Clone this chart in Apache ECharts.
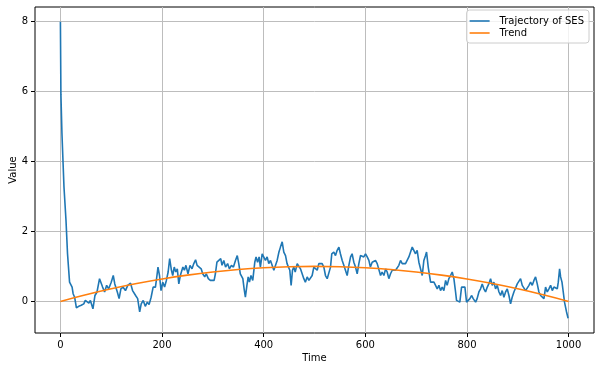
<!DOCTYPE html>
<html>
<head>
<meta charset="utf-8">
<script src="https://cdn.jsdelivr.net/npm/echarts@6/dist/echarts.min.js"></script>
<style>
html,body{margin:0;padding:0;background:#fff;}
#chart{width:599px;height:371px;}
</style>
</head>
<body>
<div id="chart"></div>
<script>
// Trajectory of SES: time stamps and values
var trajTime = [0,1,3,7,11,14,18,21,23,25,28,31.5,36,41,46,49,52.5,56,59,64,68,72,77,80,83,87,91,95,100,104,107,112,115.5,119,123,128,132.5,138,142,148,152,156,159,163,167,171,174.5,178.5,182.5,187,190,192,195,198,201.5,205,208.5,212,215,218.5,221,224,227,230,233,236,241,244,247,251,255,259,262.5,266,269,272,277,280,284,287,291,295,298.5,302.5,305,308,311.5,315.5,318,321.5,325,329,332.5,336.5,340.5,344.5,348,351,354,359,361.5,364,367,369.5,372,375,378.5,382.5,385,388,391,393.5,397,400.5,403.5,406.8,410,413.4,416.7,420,423,426.5,430,433,436.4,439.6,443,446,449.5,451.4,454,456.7,459.3,462,466,469,472.4,475.7,479,482,485.6,489,492,495.4,498.7,502,505.3,508.5,512,515,518.4,521.6,525,528,531.5,534,538,541.3,544.6,548,551,554.5,557.7,561,564.3,567.6,571,574,577.4,580.7,584,587.3,590.6,594,597,600.4,603.7,607,610,613.5,617,620,623.4,626.6,630,633,636.5,640,643,646.3,649.6,653,656,659.5,662.7,666,669.3,672.6,676,679.1,682.4,685.7,689,692.3,695.5,698.8,702,705.4,708.7,712,715.2,718.5,720.5,723.8,726.4,728.4,731.6,735,738.2,741.5,744.8,748,751.3,754.6,758,761,764.4,767.7,771,774.3,777.6,779.5,783,786,789.4,792.7,796,799.2,802.5,805.8,809,812.3,817,820,823.5,826.8,830,833.3,836.6,840,843,846.5,849.8,853,856.3,859.6,863,866.2,869.4,872.7,876,879.3,882.6,885.8,889,892.4,895.7,899,902.2,905.5,908.8,912,915.4,918.7,922,925.2,928.5,931.8,935,938.3,941.6,944.9,948.2,951.5,954.7,958,961.3,964.6,967.9,971.1,974.4,977.7,979.7,982.3,984.3,987,989.5,992,994,996,998,999];
var trajValue = [7.98,5.9,4.8,3.27,2.31,1.36,0.55,0.50,0.41,0.22,0.12,-0.18,-0.14,-0.11,-0.07,0.03,0.08,-0.05,0.03,-0.21,0.17,0.27,0.65,0.70,0.41,0.27,0.46,0.36,0.55,0.74,0.50,0.27,0.08,0.36,0.41,0.31,0.46,0.52,0.31,0.17,0.08,-0.30,-0.07,0.03,-0.14,-0.02,-0.09,0.12,0.41,0.41,0.74,0.98,0.74,0.31,0.55,0.41,0.60,0.84,1.22,0.89,0.74,0.98,0.84,0.93,0.50,0.74,0.98,0.89,1.03,0.79,1.03,0.93,1.08,1.19,1.03,1.08,0.93,0.79,0.70,0.79,0.65,0.60,0.55,0.60,0.79,1.12,1.08,1.22,1.03,1.17,0.98,1.08,0.93,1.03,0.98,1.17,1.31,1.08,0.79,0.65,0.36,0.12,0.46,0.70,0.55,0.74,0.60,1.12,1.27,1.12,1.27,0.98,1.36,1.36,1.17,1.27,1.08,1.17,1.12,0.89,0.93,1.17,1.41,1.55,1.70,1.41,1.31,1.08,1.12,0.89,0.46,0.89,0.98,0.84,1.08,1.12,0.93,0.89,0.65,0.55,0.70,0.60,0.65,0.74,0.98,1.03,0.89,1.08,1.12,1.08,0.98,0.74,0.65,0.70,0.98,1.36,1.41,1.31,1.46,1.55,1.36,1.17,1.03,0.98,0.74,1.03,1.27,1.36,1.12,0.98,0.79,1.08,1.31,1.36,1.27,1.36,1.27,1.17,0.98,1.12,1.08,1.17,1.08,1.03,0.74,0.84,0.74,0.93,0.84,0.65,0.79,0.89,0.93,0.89,0.93,1.03,1.17,1.08,1.12,1.08,1.03,1.27,1.41,1.55,1.50,1.36,1.46,1.12,1.08,0.74,1.17,1.31,1.41,0.98,0.74,0.55,0.50,0.55,0.46,0.36,0.46,0.31,0.41,0.31,0.60,0.46,0.65,0.74,0.84,0.65,0.27,0.03,0.08,-0.02,0.41,0.46,0.41,-0.02,-0.02,0.08,0.17,0.08,-0.02,0.08,0.27,0.36,0.50,0.36,0.27,0.41,0.50,0.65,0.46,0.55,0.36,0.46,0.27,0.17,0.31,0.12,0.27,0.36,0.17,-0.07,0.12,0.27,0.31,0.50,0.55,0.65,0.46,0.41,0.31,0.27,0.46,0.55,0.46,0.60,0.70,0.50,0.27,0.17,0.22,0.08,0.41,0.27,0.36,0.46,0.31,0.41,0.46,0.36,0.55,0.93,0.70,0.55,0.27,-0.02,-0.16,-0.30,-0.26,-0.48];

// Trend: values at 50-step times
var trendTime = [0,50,100,150,200,250,300,350,400,450,500,550,600,650,700,750,800,850,900,950,1000];
var trendValue = [0,0.19,0.36,0.51,0.64,0.75,0.84,0.91,0.96,0.99,1.0,0.99,0.96,0.91,0.84,0.75,0.64,0.51,0.36,0.19,0];

// Tick labels
var xTicks = [0,200,400,600,800,1000];
var yTicks = [0,2,4,6,8];
var seriesNames = ['Trajectory of SES','Trend'];

var trajData = trajTime.map(function(t,i){return [t, trajValue[i]];});
var trendData = trendTime.map(function(t,i){return [t, trendValue[i]];});

var font = 'DejaVu Sans';
var lineIcon = 'path://M0,0 L20,0 L20,1.6 L0,1.6 Z';
var chart = echarts.init(document.getElementById('chart'), null, {renderer:'canvas'});
chart.setOption({
  animation: false,
  backgroundColor: '#ffffff',
  textStyle: {fontFamily: font},
  grid: {left: 35, right: 5, top: 7, bottom: 38, containLabel: false, outerBoundsMode: 'none', show: true, borderColor: '#000', borderWidth: 1, backgroundColor: 'transparent'},
  legend: {
    orient: 'vertical', right: 10, top: 10,
    itemWidth: 20, itemHeight: 12, itemGap: 2,
    padding: [6,5,5,3],
    backgroundColor: 'rgba(255,255,255,0.8)',
    borderColor: '#cccccc', borderWidth: 1, borderRadius: 3,
    textStyle: {fontFamily: font, fontSize: 10, color: '#000', padding: [0,0,0,5]},
    data: [{name: seriesNames[0], icon: lineIcon}, {name: seriesNames[1], icon: lineIcon}]
  },
  xAxis: {
    type: 'value', min: -50, max: 1050,
    name: 'Time', nameLocation: 'middle', nameGap: 20, nameMoveOverlap: false,
    nameTextStyle: {fontFamily: font, fontSize: 10, color: '#000'},
    axisLine: {show: false, onZero: false},
    axisTick: {show: true, inside: false, length: 4, customValues: xTicks, lineStyle: {color: '#000', width: 1}},
    axisLabel: {customValues: xTicks, fontFamily: font, fontSize: 10, color: '#000', margin: 7, formatter: function(v){return String(v);}},
    splitLine: {show: true, lineStyle: {color: '#bdbdbd', width: 1}}
  },
  yAxis: {
    type: 'value', min: -0.9, max: 8.4,
    name: 'Value', nameLocation: 'middle', nameGap: 17, nameMoveOverlap: false,
    nameTextStyle: {fontFamily: font, fontSize: 10, color: '#000'},
    axisLine: {show: false, onZero: false},
    axisTick: {show: true, inside: false, length: 4, customValues: yTicks, lineStyle: {color: '#000', width: 1}},
    axisLabel: {customValues: yTicks, fontFamily: font, fontSize: 10, color: '#000', margin: 7, formatter: function(v){return String(v);}},
    splitLine: {show: true, lineStyle: {color: '#bdbdbd', width: 1}}
  },
  series: [
    {name: seriesNames[0], type: 'line', data: trajData, symbol: 'none', lineStyle: {color: '#1f77b4', width: 1.6}, itemStyle: {color: '#1f77b4'}, z: 3},
    {name: seriesNames[1], type: 'line', data: trendData, symbol: 'none', smooth: true, lineStyle: {color: '#ff7f0e', width: 1.6}, itemStyle: {color: '#ff7f0e'}, z: 4}
  ]
});
</script>
</body>
</html>
